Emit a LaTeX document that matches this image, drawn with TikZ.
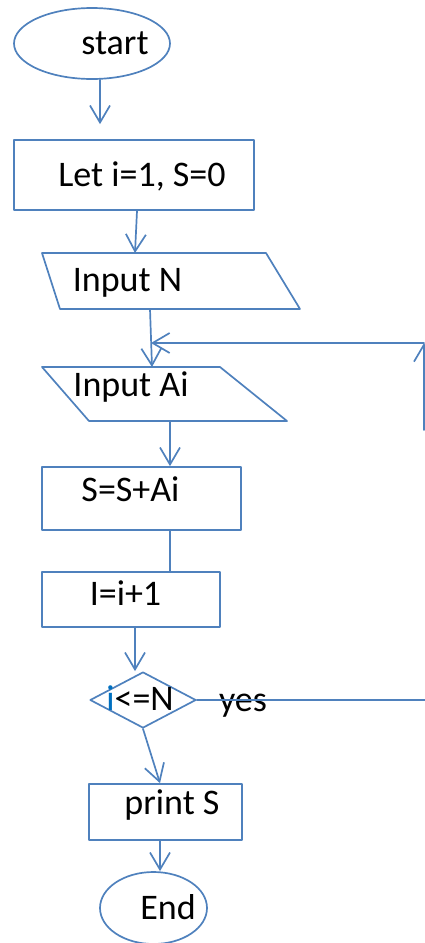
\documentclass[tikz,border=0pt]{standalone}
\usepackage{fontspec}
\setmainfont{Carlito}
\usetikzlibrary{shapes.geometric,arrows.meta}
\definecolor{lineblue}{HTML}{4F81BD}
\definecolor{iblue}{HTML}{0070C0}
\tikzset{
  box/.style={draw=lineblue,line width=1.7pt,inner sep=0pt},
  term/.style={box,ellipse},
  proc/.style={box,rectangle},
  dec/.style={box,diamond},
  txt/.style={anchor=base,inner sep=0pt,font=\fontsize{36}{43}\selectfont},
  ln/.style={draw=lineblue,line width=1.7pt},
  arr/.style={ln,-{Straight Barb[length=17pt,width=20pt]}},
}
\begin{document}
\begin{tikzpicture}[x=1pt,y=-1pt,line join=round,line cap=round]
	\useasboundingbox (0,0) rectangle (425,943);
	% shapes
	\node[term,minimum width=156pt,minimum height=71pt] (start) at (92,43.5) {};
	\node[proc,minimum width=240pt,minimum height=70pt] (init) at (134,175) {};
	\coordinate (N1) at (42,253);
	\coordinate (N2) at (266,253);
	\coordinate (N3) at (300,309);
	\coordinate (N4) at (60,309);
	\draw[ln] (N1)--(N2)--(N3)--(N4)--cycle;
	\coordinate (A1) at (42,367);
	\coordinate (A2) at (220,367);
	\coordinate (A3) at (287,421);
	\coordinate (A4) at (89,421);
	\draw[ln] (A1)--(A2)--(A3)--(A4)--cycle;
	\node[proc,minimum width=199pt,minimum height=63pt] (sum) at (141.5,498.5) {};
	\node[proc,minimum width=178pt,minimum height=55pt] (inc) at (131,599.5) {};
	\node[dec,minimum width=106pt,minimum height=56pt] (cond) at (143,700) {};
	\node[proc,minimum width=153pt,minimum height=56pt] (out) at (165.5,812) {};
	\node[term,minimum width=107pt,minimum height=72pt] (stop) at (153.5,908) {};
	% texts
	\node[txt] (tstart) at (115,54) {start};
	\node[txt] (tinit) at (142,186) {Let i=1, S=0};
	\node[txt] (tinN) at (127.5,291) {Input N};
	\node[txt] (tinA) at (131,396) {Input Ai};
	\node[txt] (tsum) at (130.5,501) {S=S+Ai};
	\node[txt] (tinc) at (125.5,605) {I=i+1};
	\node[txt] (tcond) at (140,710) {{\color{iblue}i}<=N};
	\node[txt] (tyes) at (243,711) {yes};
	\node[txt] (tout) at (172,814) {print S};
	\node[txt] (tstop) at (168,919) {End};
	% connector ends on the input shapes
	\coordinate (Nin) at (135,253);
	\coordinate (Nout) at (150,309);
	\coordinate (Ain) at (152,367);
	\coordinate (Aout) at (170,421);
	% loop back
	\coordinate (merge) at (151,343);
	\coordinate (rT) at (424,343);
	\coordinate (rB) at (424,430);
	\coordinate (rE) at (425,700);
	% connectors
	\draw[arr,shorten >=15pt] ([xshift=8pt]start.south) -- ([xshift=-34pt]init.north);
	\draw[arr] ([xshift=3pt]init.south) -- (Nin);
	\draw[arr] (Nout) -- (Ain);
	\draw[arr] (Aout) -- ([xshift=28.5pt]sum.north);
	\draw[ln] ([xshift=28.5pt]sum.south) -- ([xshift=39pt]inc.north);
	\draw[arr] ([xshift=4pt]inc.south) -- ([xshift=-8pt]cond.north);
	\draw[arr] (cond.south) -- ([xshift=-5.5pt]out.north);
	\draw[arr] ([xshift=-5.5pt]out.south) -- ([xshift=6.5pt]stop.north);
	\draw[ln] (cond.east) -- (rE);
	\draw[arr] (rB) -- (rT);
	\draw[arr] (rT) -- (merge);
\end{tikzpicture}
\end{document}
